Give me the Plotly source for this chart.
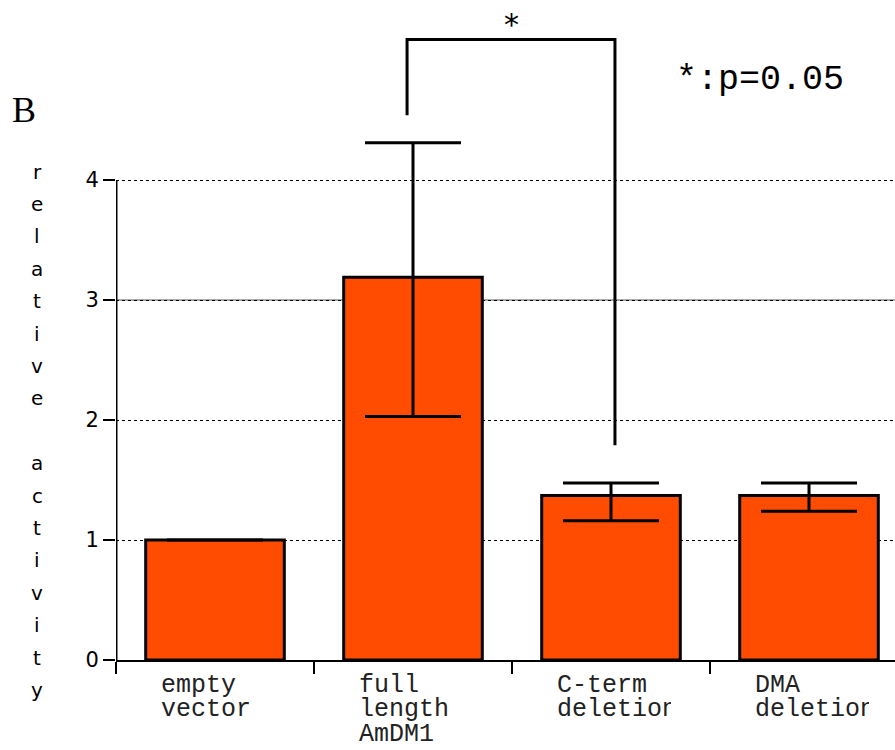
import plotly.graph_objects as go

# data
categories = ["empty<br>vector", "full<br>length<br>AmDM1", "C-term<br>deletion", "DMA<br>deletion"]
activity = [1.0, 3.19, 1.37, 1.37]
err_plus = [0.0, 1.12, 0.105, 0.105]
err_minus = [0.0, 1.16, 0.21, 0.13]
y_ticks = [0, 1, 2, 3, 4]

# significance bracket between full length (1) and C-term deletion (2)
sig_pair = [1, 2]
bracket_y = [4.54, 5.17, 5.17, 1.79]
sig_label = "*"
p_note = "*:p=0.05"

axis_title = "relative activity"

fig = go.Figure()

fig.add_trace(
    go.Bar(
        x=list(range(len(categories))),
        y=activity,
        width=0.7,
        marker=dict(color="#FF4C00", line=dict(color="black", width=3)),
        error_y=dict(
            type="data",
            symmetric=False,
            array=err_plus,
            arrayminus=err_minus,
            color="black",
            thickness=3,
            width=48,
        ),
        showlegend=False,
    )
)

# bracket
fig.add_trace(
    go.Scatter(
        x=[sig_pair[0] - 0.03, sig_pair[0] - 0.03, sig_pair[1] + 0.02, sig_pair[1] + 0.02],
        y=bracket_y,
        mode="lines",
        line=dict(color="black", width=3),
        showlegend=False,
        hoverinfo="skip",
    )
)

annotations = []
# star above bracket
annotations.append(dict(
    x=sum(sig_pair) / 2 - 0.005, y=bracket_y[1], xref="x", yref="y",
    text=sig_label, showarrow=False, yanchor="bottom", yshift=-4,
    font=dict(family="DejaVu Sans", size=30, color="black"),
))
# p value note
annotations.append(dict(
    x=2.75, y=4.83, xref="x", yref="y", text=p_note, showarrow=False,
    font=dict(family="Liberation Mono", size=35, color="black"),
))
# panel letter
annotations.append(dict(
    x=-106 / 779, y=1 - 110 / 660, xref="paper", yref="paper", text="B",
    showarrow=False, xanchor="left", yanchor="middle",
    font=dict(family="Liberation Serif", size=36, color="black"),
))

# category labels, left aligned and clipped like the original
for i, lab in enumerate(categories):
    for k, line in enumerate(lab.split("<br>")):
        annotations.append(dict(
            x=i - 0.285, y=0, xref="x", yref="y", text=line, showarrow=False,
            xanchor="left", yanchor="middle", align="left", width=114,
            yshift=-(25 + 24.5 * k),
            font=dict(family="Liberation Mono", size=25, color="#222"),
        ))

# vertical stacked axis title
for k, ch in enumerate(axis_title):
    if ch == " ":
        continue
    annotations.append(dict(
        x=-0.5, y=4.07, xref="x", yref="y", text=ch, showarrow=False,
        xanchor="center", yanchor="middle", xshift=-79, yshift=-32.4 * k,
        font=dict(family="DejaVu Sans", size=20, color="black"),
    ))

shapes = [
    # y axis line only up to 4
    dict(type="line", xref="x", yref="y", x0=-0.5, x1=-0.5, y0=-0.07, y1=4,
         line=dict(color="black", width=3)),
    # solid grid line at 3
    dict(type="line", xref="paper", yref="y", x0=0, x1=1, y0=3, y1=3,
         line=dict(color="#555", width=1), layer="below"),
]

fig.update_layout(
    width=895,
    height=750,
    margin=dict(l=116, r=0, t=0, b=90),
    plot_bgcolor="white",
    paper_bgcolor="white",
    annotations=annotations,
    shapes=shapes,
    xaxis=dict(
        range=[-0.5, -0.5 + 779 / 198],
        tickvals=[-0.5, 0.5, 1.5, 2.5],
        showticklabels=False,
        ticks="outside",
        ticklen=12,
        tickwidth=2,
        tickcolor="black",
        showline=True,
        linecolor="black",
        linewidth=2,
        showgrid=False,
        zeroline=False,
    ),
    yaxis=dict(
        range=[0, 5.5],
        tickvals=y_ticks,
        ticks="outside",
        ticklen=12,
        tickwidth=1.5,
        tickcolor="black",
        tickfont=dict(family="DejaVu Sans", size=21, color="black"),
        showline=False,
        showgrid=True,
        gridcolor="black",
        griddash="dot",
        gridwidth=1,
        zeroline=False,
    ),
)

fig.write_html(
    "out.html",
    config={"displayModeBar": False},
    post_script="document.body.style.margin='0';",
)
